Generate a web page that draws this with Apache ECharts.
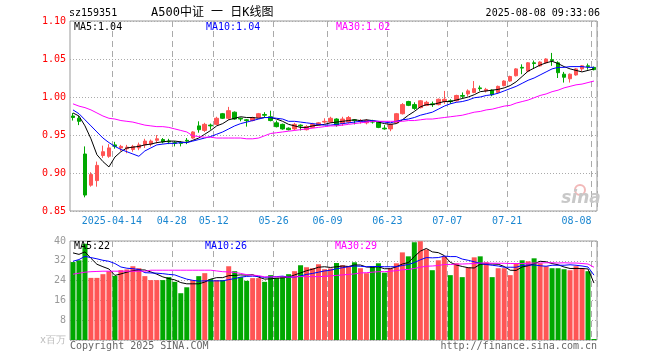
<!DOCTYPE html>
<html><head><meta charset="utf-8">
<script src="https://cdn.jsdelivr.net/npm/echarts@6/dist/echarts.min.js"></script>
<style>html,body{margin:0;padding:0;background:#fff}#c{width:660px;height:360px}</style>
</head><body><div id="c"></div>
<script>
// ---------- data ----------
const dates = [
'2025-04-02','2025-04-03','2025-04-07','2025-04-08','2025-04-09','2025-04-10','2025-04-11',
'2025-04-14','2025-04-15','2025-04-16','2025-04-17','2025-04-18',
'2025-04-21','2025-04-22','2025-04-23','2025-04-24','2025-04-25',
'2025-04-28','2025-04-29','2025-04-30',
'2025-05-06','2025-05-07','2025-05-08','2025-05-09',
'2025-05-12','2025-05-13','2025-05-14','2025-05-15','2025-05-16',
'2025-05-19','2025-05-20','2025-05-21','2025-05-22','2025-05-23',
'2025-05-26','2025-05-27','2025-05-28','2025-05-29','2025-05-30',
'2025-06-03','2025-06-04','2025-06-05','2025-06-06',
'2025-06-09','2025-06-10','2025-06-11','2025-06-12','2025-06-13',
'2025-06-16','2025-06-17','2025-06-18','2025-06-19','2025-06-20',
'2025-06-23','2025-06-24','2025-06-25','2025-06-26','2025-06-27','2025-06-30',
'2025-07-01','2025-07-02','2025-07-03','2025-07-04',
'2025-07-07','2025-07-08','2025-07-09','2025-07-10','2025-07-11',
'2025-07-14','2025-07-15','2025-07-16','2025-07-17','2025-07-18',
'2025-07-21','2025-07-22','2025-07-23','2025-07-24','2025-07-25',
'2025-07-28','2025-07-29','2025-07-30','2025-07-31',
'2025-08-01','2025-08-04','2025-08-05','2025-08-06','2025-08-07','2025-08-08'];

const tickDates = ['2025-04-14','2025-04-28','2025-05-12','2025-05-26','2025-06-09','2025-06-23','2025-07-07','2025-07-21','2025-08-08'];
const tickLabels = ['2025-04-14','04-28','05-12','05-26','06-09','06-23','07-07','07-21','08-08'];
const priceTicks = [0.85, 0.90, 0.95, 1.00, 1.05, 1.10];
const volumeTicks = [0, 8, 16, 24, 32, 40];

const opens = [0.975,0.972,0.925,0.884,0.890,0.923,0.922,0.937,0.933,0.932,
0.931,0.933,0.937,0.938,0.943,0.944,0.942,0.940,0.940,0.943,
0.946,0.962,0.956,0.963,0.964,0.978,0.972,0.980,0.972,0.970,
0.969,0.973,0.977,0.974,0.966,0.964,0.959,0.958,0.963,0.957,
0.960,0.963,0.967,0.967,0.971,0.965,0.967,0.970,0.968,0.966,
0.968,0.967,0.959,0.958,0.966,0.978,0.994,0.990,0.986,0.989,
0.991,0.990,0.994,0.995,0.995,1.002,1.004,1.006,1.012,1.008,
1.009,1.006,1.015,1.021,1.028,1.039,1.034,1.045,1.041,1.045,
1.049,1.045,1.030,1.024,1.029,1.037,1.041,1.039];
const closes = [0.973,0.968,0.871,0.898,0.910,0.928,0.933,0.935,0.935,0.934,
0.935,0.937,0.942,0.942,0.945,0.941,0.941,0.939,0.939,0.942,
0.954,0.957,0.964,0.962,0.972,0.972,0.982,0.971,0.971,0.969,
0.973,0.978,0.976,0.969,0.961,0.958,0.957,0.964,0.962,0.961,
0.964,0.966,0.968,0.972,0.963,0.971,0.973,0.969,0.969,0.969,
0.967,0.960,0.958,0.964,0.978,0.990,0.989,0.985,0.995,0.993,
0.990,0.997,0.997,0.994,1.002,1.001,1.008,1.011,1.011,1.010,
1.003,1.014,1.021,1.027,1.037,1.038,1.045,1.044,1.046,1.050,
1.048,1.032,1.026,1.030,1.037,1.041,1.040,1.036];
const lows = [0.969,0.963,0.868,0.882,0.882,0.920,0.920,0.932,0.929,0.926,
0.928,0.930,0.933,0.935,0.939,0.939,0.938,0.935,0.935,0.938,
0.945,0.953,0.954,0.957,0.963,0.971,0.970,0.970,0.968,0.961,
0.968,0.972,0.973,0.968,0.960,0.957,0.956,0.956,0.956,0.956,
0.959,0.962,0.965,0.966,0.961,0.962,0.965,0.964,0.965,0.964,
0.965,0.959,0.957,0.955,0.965,0.977,0.988,0.983,0.985,0.988,
0.987,0.989,0.991,0.991,0.994,0.998,1.001,1.005,1.008,1.006,
1.001,1.005,1.014,1.020,1.027,1.030,1.033,1.037,1.040,1.044,
1.041,1.025,1.019,1.019,1.028,1.034,1.036,1.035];
const highs = [0.979,0.975,0.935,0.901,0.915,0.936,0.938,0.941,0.937,0.937,
0.937,0.940,0.945,0.944,0.950,0.946,0.945,0.942,0.942,0.946,
0.955,0.968,0.966,0.965,0.974,0.979,0.987,0.981,0.973,0.971,
0.974,0.979,0.980,0.982,0.969,0.965,0.960,0.966,0.964,0.963,
0.966,0.967,0.972,0.974,0.972,0.974,0.975,0.971,0.971,0.971,
0.970,0.968,0.963,0.965,0.979,0.992,0.995,0.993,0.996,0.995,
0.994,0.998,1.008,0.997,1.003,1.006,1.010,1.021,1.015,1.012,
1.010,1.015,1.022,1.028,1.038,1.043,1.046,1.048,1.047,1.051,
1.058,1.047,1.033,1.031,1.038,1.042,1.044,1.040];

const ma5 = [0.979,0.975,0.962,0.945,0.924,0.915,0.908,0.921,0.928,0.933,
0.934,0.935,0.937,0.938,0.940,0.941,0.942,0.942,0.941,0.940,
0.943,0.946,0.951,0.956,0.962,0.965,0.970,0.972,0.974,0.973,
0.973,0.972,0.973,0.973,0.971,0.968,0.964,0.962,0.960,0.960,
0.962,0.963,0.964,0.966,0.967,0.968,0.969,0.970,0.969,0.970,
0.969,0.967,0.965,0.964,0.965,0.970,0.976,0.981,0.987,0.990,
0.990,0.992,0.994,0.994,0.996,0.998,1.000,1.003,1.007,1.008,
1.009,1.010,1.012,1.015,1.020,1.027,1.034,1.038,1.042,1.045,
1.047,1.044,1.040,1.037,1.035,1.033,1.035,1.037];
const ma10 = [0.983,0.978,0.970,0.962,0.954,0.946,0.940,0.935,0.931,0.928,
0.925,0.922,0.929,0.933,0.937,0.938,0.939,0.939,0.940,0.940,
0.942,0.944,0.946,0.948,0.951,0.954,0.958,0.962,0.965,0.967,
0.969,0.971,0.973,0.973,0.972,0.971,0.968,0.968,0.967,0.966,
0.965,0.964,0.963,0.963,0.964,0.965,0.966,0.967,0.968,0.968,
0.969,0.968,0.967,0.966,0.968,0.970,0.971,0.973,0.976,0.978,
0.980,0.984,0.988,0.991,0.993,0.994,0.996,0.999,1.000,1.002,
1.003,1.005,1.008,1.011,1.014,1.018,1.022,1.025,1.029,1.033,
1.037,1.039,1.039,1.040,1.040,1.040,1.039,1.039];
const ma30 = [0.991,0.988,0.986,0.983,0.979,0.975,0.972,0.971,0.969,0.968,
0.967,0.965,0.963,0.962,0.961,0.961,0.960,0.958,0.956,0.954,
0.949,0.948,0.947,0.947,0.946,0.946,0.946,0.946,0.946,0.945,
0.945,0.946,0.949,0.952,0.953,0.954,0.955,0.956,0.957,0.958,
0.959,0.960,0.961,0.962,0.962,0.963,0.964,0.965,0.966,0.967,
0.968,0.968,0.968,0.968,0.968,0.968,0.969,0.969,0.970,0.971,
0.971,0.972,0.973,0.974,0.975,0.976,0.978,0.980,0.981,0.983,
0.984,0.986,0.988,0.989,0.992,0.994,0.996,0.999,1.002,1.004,
1.007,1.009,1.012,1.014,1.016,1.017,1.019,1.021];

const volumes = [31.5,32.2,38.9,25.1,25.1,26.6,27.8,25.9,28.2,28.5,
29.8,29.0,25.8,24.2,24.2,24.2,25.4,23.5,18.9,21.3,
24.2,25.8,27.0,24.6,24.2,24.2,29.8,27.8,25.4,23.9,
25.0,25.0,23.5,26.2,25.1,25.8,26.6,27.8,30.2,29.4,
29.0,30.6,28.6,28.9,31.1,30.2,29.9,31.4,29.0,27.0,
29.8,31.0,27.2,29.0,31.0,35.4,33.8,39.5,39.9,36.6,
28.2,32.2,33.8,26.2,31.0,25.4,29.4,33.4,33.8,31.4,
25.4,29.0,29.0,26.2,31.0,32.2,31.8,33.0,31.0,29.8,
29.0,29.0,28.6,28.2,29.8,29.0,27.8,0.4];
const volMa5 = [35.2,34.6,35.6,33.0,30.6,29.6,28.7,26.1,26.7,27.4,
28.0,28.3,28.3,27.5,26.6,25.5,24.8,24.3,23.2,22.7,
22.7,22.7,23.4,24.6,25.2,25.2,26.0,26.1,26.3,26.2,
26.4,25.4,24.6,24.7,25.0,25.1,25.4,26.3,27.1,28.0,
28.6,29.4,29.6,29.3,29.6,29.9,29.7,30.3,30.3,29.5,
29.4,29.6,28.8,28.8,29.6,30.7,31.3,33.7,35.9,37.0,
35.6,35.3,34.1,31.4,30.3,29.7,29.2,29.1,30.6,30.7,
30.7,30.6,29.7,28.2,28.1,29.5,30.0,30.8,31.8,31.6,
30.9,30.4,29.5,28.9,28.9,28.9,28.7,23.0];
const volMa10 = [31.8,32.5,33.8,33.3,32.8,32.2,31.8,30.9,29.5,29.0,
28.8,28.5,27.2,27.1,27.0,26.8,26.5,26.3,25.4,24.6,
24.1,23.8,23.9,23.9,23.9,23.9,24.4,24.8,25.4,25.7,
25.8,25.7,25.3,25.5,25.6,25.8,25.4,25.4,25.9,26.5,
26.9,27.4,27.9,28.2,28.8,29.2,29.6,29.9,29.8,29.6,
29.7,29.7,29.6,29.6,29.6,30.1,30.5,31.3,32.4,33.3,
33.2,33.3,33.9,33.7,33.7,32.7,32.2,31.6,31.0,30.5,
30.2,29.9,29.4,29.4,29.4,30.1,30.3,30.3,30.0,29.8,
30.2,30.2,30.2,30.4,30.2,29.9,29.5,26.2];
const volMa30 = [26.6,27.0,27.4,27.6,27.7,27.8,27.8,27.8,27.8,27.8,
27.8,27.8,27.8,28.2,28.2,28.2,28.2,28.2,28.2,28.2,
28.2,28.2,28.2,28.2,27.9,27.6,27.5,27.3,26.9,26.4,
26.2,26.0,25.5,25.5,25.5,25.5,25.4,25.5,25.6,25.6,
25.6,25.6,25.7,25.9,26.1,26.3,26.5,26.7,27.1,27.2,
27.4,27.6,27.6,27.8,28.0,28.4,28.5,28.9,29.4,29.8,
29.9,30.1,30.5,30.5,30.7,30.7,30.8,30.9,31.1,31.1,
31.0,31.0,31.0,30.9,30.9,30.9,31.0,31.1,31.1,31.2,
31.2,31.1,31.2,31.1,31.1,30.9,30.7,29.4];

// ---------- chart ----------
const RED = '#ff5555', GREEN = '#00a800', BLUE_TXT = '#1a86d0';
const MONO = '"DejaVu Sans Mono", "Liberation Mono", monospace';
const GRID_C = '#aaaaaa';

const chart = echarts.init(document.getElementById('c'), null, {renderer: 'canvas', width: 660, height: 360});
const candleData = dates.map((d, i) => [opens[i], closes[i], lows[i], highs[i]]);
const isTick = (idx, val) => tickDates.indexOf(val) >= 0;

const step = (arr) => Math.round((arr[1] - arr[0]) * 1000) / 1000;

const splitX = {show: true, interval: isTick, lineStyle: {color: GRID_C, type: [6, 4], width: 1}};
const splitY = {show: true, lineStyle: {color: GRID_C, type: [1, 2], width: 1}};

function lineSeries(name, data, color, idx) {
  return {name, type: 'line', data, xAxisIndex: idx, yAxisIndex: idx, showSymbol: false, symbol: 'none',
    smooth: false, lineStyle: {color, width: 1}, itemStyle: {color}, z: 5, silent: true};
}

function txt(text, x, y, color, font, align) {
  return {type: 'text', x, y, silent: true, z: 100,
    style: {text, fill: color, font: font || ('10px ' + MONO), align: align || 'left', textAlign: align || 'left',
      verticalAlign: 'middle', textVerticalAlign: 'middle'}};
}

const option = {
  animation: false,
  backgroundColor: '#ffffff',
  grid: [
    {left: 70, top: 21, width: 527, height: 190, show: true, borderColor: '#999999', borderWidth: 1, backgroundColor: 'transparent'},
    {left: 70, top: 241, width: 527, height: 99, show: true, borderColor: '#999999', borderWidth: 1, backgroundColor: 'transparent'}
  ],
  xAxis: [
    {type: 'category', gridIndex: 0, data: dates, boundaryGap: true,
      axisLine: {show: false}, axisTick: {show: false},
      axisLabel: {show: true, interval: isTick, margin: 5,
        formatter: (val) => {
          const k = tickDates.indexOf(val);
          return (k === tickDates.length - 1 ? '{b|' : '{a|') + tickLabels[k] + '}';
        },
        rich: {
          a: {color: BLUE_TXT, fontFamily: MONO, fontSize: 10, padding: [0, 6, 0, 0]},
          b: {color: BLUE_TXT, fontFamily: MONO, fontSize: 10, padding: [0, 35, 0, 0]}
        }},
      splitLine: splitX},
    {type: 'category', gridIndex: 1, data: dates, boundaryGap: true,
      axisLine: {show: false}, axisTick: {show: false}, axisLabel: {show: false},
      splitLine: splitX}
  ],
  yAxis: [
    {type: 'value', gridIndex: 0, min: priceTicks[0], max: priceTicks[priceTicks.length - 1], interval: step(priceTicks),
      axisLine: {show: false}, axisTick: {show: false},
      axisLabel: {color: '#ff0000', fontFamily: MONO, fontSize: 10, margin: 4, formatter: (v) => v.toFixed(2)},
      splitLine: splitY},
    {type: 'value', gridIndex: 1, min: volumeTicks[0], max: volumeTicks[volumeTicks.length - 1], interval: step(volumeTicks),
      axisLine: {show: false}, axisTick: {show: false},
      axisLabel: {fontFamily: MONO, fontSize: 10, margin: 4,
        color: (v) => (Number(v) === 0 ? '#bbbbbb' : '#999999'),
        formatter: (v) => (v === 0 ? 'x百万' : String(v))},
      splitLine: splitY}
  ],
  series: [
    {name: 'K', type: 'candlestick', data: candleData, xAxisIndex: 0, yAxisIndex: 0, barWidth: 4,
      itemStyle: {color: RED, color0: GREEN, borderColor: RED, borderColor0: GREEN, borderWidth: 1}, z: 3, silent: true},
    lineSeries('MA5', ma5, '#000000', 0),
    lineSeries('MA10', ma10, '#0000ff', 0),
    lineSeries('MA30', ma30, '#ff00ff', 0),
    {name: 'VOL', type: 'bar', data: volumes.map((v, i) => ({value: v,
        itemStyle: {color: closes[i] >= opens[i] ? RED : GREEN}})),
      xAxisIndex: 1, yAxisIndex: 1, barWidth: 5, z: 3, silent: true},
    lineSeries('VMA5', volMa5, '#000000', 1),
    lineSeries('VMA10', volMa10, '#0000ff', 1),
    lineSeries('VMA30', volMa30, '#ff00ff', 1)
  ],
  graphic: [
    txt('sz159351', 69, 13, '#000000'),
    txt('A500中证 一 日K线图', 151, 13, '#000000', '12px ' + MONO + ', "Noto Sans CJK SC"'),
    txt('2025-08-08 09:33:06', 600, 13, '#000000', null, 'right'),
    txt('MA5:1.04', 74, 27, '#000000'),
    txt('MA10:1.04', 206, 27, '#0000ff'),
    txt('MA30:1.02', 336, 27, '#ff00ff'),
    txt('MA5:22', 74, 246, '#000000'),
    txt('MA10:26', 205, 246, '#0000ff'),
    txt('MA30:29', 335, 246, '#ff00ff'),
    txt('Copyright 2025 SINA.COM', 70, 346, '#666666'),
    txt('http://finance.sina.com.cn', 597, 346, '#666666', null, 'right'),
    {type: 'circle', shape: {cx: 580, cy: 190, r: 5}, style: {fill: 'none', stroke: '#f2b8b8', lineWidth: 2}, silent: true, z: 1},
    txt('sina', 581, 199, '#c8c8c8', 'italic bold 17px "DejaVu Sans", sans-serif', 'center')
  ]
};
chart.setOption(option);
</script>
</body></html>
